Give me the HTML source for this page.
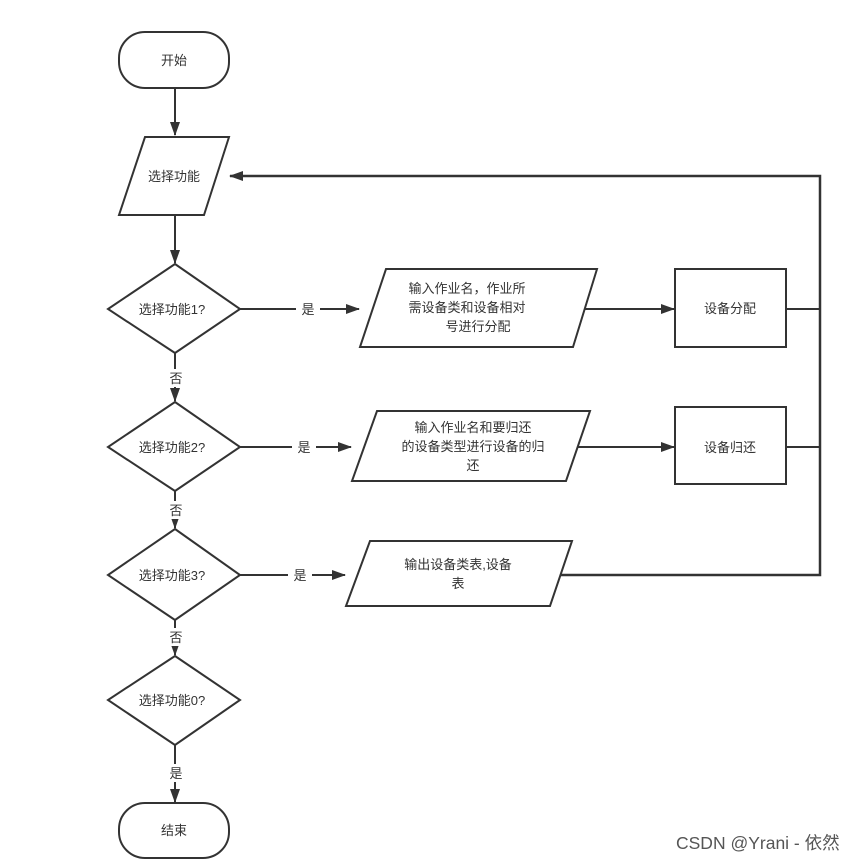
<!DOCTYPE html>
<html><head><meta charset="utf-8"><style>body{margin:0;background:#fff}svg text{font-family:"Liberation Sans","Noto Sans CJK SC",sans-serif;font-size:13px;fill:#333}</style></head><body>
<svg width="865" height="863" xmlns="http://www.w3.org/2000/svg">
<defs><marker id="a" markerWidth="14" markerHeight="10" refX="13" refY="5" orient="auto" markerUnits="userSpaceOnUse"><path d="M0,0 L14,5 L0,10 z" fill="#333"/></marker></defs>
<g fill="none" stroke="#333" stroke-width="2">
<rect x="119" y="32" width="110" height="56" rx="26"/>
<rect x="119" y="803" width="110" height="55" rx="26"/>
<polygon points="145,137 229,137 204,215 119,215"/>
<polygon points="175,264 240,309 175,353 108,309"/>
<polygon points="175,402 240,447 175,491 108,447"/>
<polygon points="175,529 240,575 175,620 108,575"/>
<polygon points="175,656 240,700 175,745 108,700"/>
<polygon points="386,269 597,269 573,347 360,347"/>
<polygon points="377,411 590,411 566,481 352,481"/>
<polygon points="370,541 572,541 550,606 346,606"/>
<rect x="675" y="269" width="111" height="78"/>
<rect x="675" y="407" width="111" height="77"/>
<line x1="175" y1="88" x2="175" y2="135" marker-end="url(#a)"/>
<line x1="175" y1="215" x2="175" y2="263" marker-end="url(#a)"/>
<line x1="175" y1="353" x2="175" y2="401" marker-end="url(#a)"/>
<line x1="175" y1="491" x2="175" y2="528" marker-end="url(#a)"/>
<line x1="175" y1="620" x2="175" y2="655" marker-end="url(#a)"/>
<line x1="175" y1="745" x2="175" y2="802" marker-end="url(#a)"/>
<line x1="240" y1="309" x2="359" y2="309" marker-end="url(#a)"/>
<line x1="240" y1="447" x2="351" y2="447" marker-end="url(#a)"/>
<line x1="240" y1="575" x2="345" y2="575" marker-end="url(#a)"/>
<line x1="585" y1="309" x2="674" y2="309" marker-end="url(#a)"/>
<line x1="578" y1="447" x2="674" y2="447" marker-end="url(#a)"/>
<line x1="786" y1="309" x2="820" y2="309"/>
<line x1="786" y1="447" x2="820" y2="447"/>
<polyline points="561,575 820,575 820,176 230,176" stroke-width="2.5" marker-end="url(#a)"/>
</g>
<g fill="#fff"><rect x="296" y="300" width="24" height="18"/><rect x="292" y="438" width="24" height="18"/><rect x="288" y="566" width="24" height="18"/><rect x="164" y="369" width="24" height="18"/><rect x="164" y="501" width="24" height="18"/><rect x="164" y="628" width="24" height="18"/><rect x="164" y="764" width="24" height="18"/></g>
<g text-anchor="middle">
<text x="174" y="65">开始</text>
<text x="174" y="835">结束</text>
<text x="174" y="181">选择功能</text>
<text x="172" y="314">选择功能1?</text>
<text x="172" y="452">选择功能2?</text>
<text x="172" y="580">选择功能3?</text>
<text x="172" y="705">选择功能0?</text>
<text x="308" y="314">是</text><text x="304" y="452">是</text><text x="300" y="580">是</text>
<text x="176" y="383">否</text><text x="176" y="515">否</text><text x="176" y="642">否</text><text x="176" y="778">是</text>
<text x="467" y="293">输入作业名，作业所</text><text x="467" y="312">需设备类和设备相对</text><text x="478" y="331">号进行分配</text>
<text x="473" y="432">输入作业名和要归还</text><text x="473" y="451">的设备类型进行设备的归</text><text x="473" y="470">还</text>
<text x="458" y="569">输出设备类表,设备</text><text x="458" y="588">表</text>
<text x="730" y="313">设备分配</text><text x="730" y="452">设备归还</text>
</g>
<text x="676" y="849" style="font-size:17.5px;fill:#555">CSDN @Yrani - 依然</text>
</svg>
</body></html>
